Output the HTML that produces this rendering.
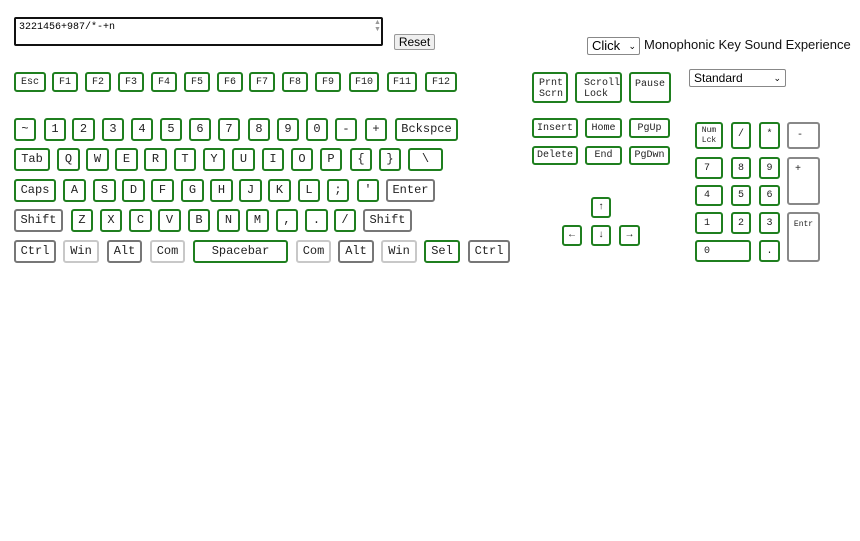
<!DOCTYPE html>
<html><head><meta charset="utf-8"><style>
body{margin:0;width:860px;height:541px;background:#fff;position:relative;overflow:hidden;font-family:"Liberation Mono","DejaVu Sans Mono",monospace;}
.k{position:absolute;box-sizing:border-box;border:2px solid #1f7f1f;border-radius:3px;background:#fff;font-size:12px;color:#222;display:flex;align-items:center;justify-content:center;line-height:13px;}
.g{border-color:#777;}
.l{border-color:#c8c8c8;}
.s{font-size:10px;}
.tl{align-items:flex-start;justify-content:flex-start;padding:4px 0 0 5px;}
.ln{justify-content:flex-start;padding-left:7px;}
.sf{font-family:"Liberation Sans",Arial,sans-serif;}
</style></head><body>
<div style="position:absolute;left:14px;top:17px;width:369px;height:29px;box-sizing:border-box;border:2px solid #111;border-radius:2px;font-size:10px;padding:3px 3px;">3221456+987/*-+n</div>
<div class="sf" style="position:absolute;left:374px;top:19px;width:8px;height:24px;font-size:7px;color:#999;line-height:7px">▲<br>▼</div>
<div class="sf" style="position:absolute;left:394px;top:34px;width:41px;height:16px;box-sizing:border-box;border:1px solid #999;border-radius:2px;background:#efefef;font-size:12px;text-align:center;line-height:14px;">Reset</div>
<div class="sf" style="position:absolute;left:587px;top:37px;width:53px;height:18px;box-sizing:border-box;border:1px solid #888;border-radius:2px;font-size:13px;line-height:16px;padding-left:4px;">Click <span style="position:absolute;right:3px;font-size:9px">⌄</span></div>
<div class="sf" style="position:absolute;left:644px;top:37px;font-size:13px;color:#111;white-space:nowrap;">Monophonic Key Sound Experience</div>
<div class="sf" style="position:absolute;left:689px;top:69px;width:97px;height:18px;box-sizing:border-box;border:1px solid #888;border-radius:2px;font-size:12px;line-height:16px;padding-left:4px;">Standard<span style="position:absolute;right:4px;font-size:9px">⌄</span></div>

<div class="k s" style="left:14px;top:72px;width:32px;height:20px">Esc</div>
<div class="k s" style="left:52px;top:72px;width:26px;height:20px">F1</div>
<div class="k s" style="left:85px;top:72px;width:26px;height:20px">F2</div>
<div class="k s" style="left:118px;top:72px;width:26px;height:20px">F3</div>
<div class="k s" style="left:151px;top:72px;width:26px;height:20px">F4</div>
<div class="k s" style="left:184px;top:72px;width:26px;height:20px">F5</div>
<div class="k s" style="left:217px;top:72px;width:26px;height:20px">F6</div>
<div class="k s" style="left:249px;top:72px;width:26px;height:20px">F7</div>
<div class="k s" style="left:282px;top:72px;width:26px;height:20px">F8</div>
<div class="k s" style="left:315px;top:72px;width:26px;height:20px">F9</div>
<div class="k s" style="left:349px;top:72px;width:30px;height:20px">F10</div>
<div class="k s" style="left:387px;top:72px;width:30px;height:20px">F11</div>
<div class="k s" style="left:425px;top:72px;width:32px;height:20px">F12</div>

<div class="k" style="left:14px;top:118px;width:22px;height:23px">~</div>
<div class="k" style="left:44px;top:118px;width:22px;height:23px">1</div>
<div class="k" style="left:72px;top:118px;width:23px;height:23px">2</div>
<div class="k" style="left:102px;top:118px;width:22px;height:23px">3</div>
<div class="k" style="left:131px;top:118px;width:22px;height:23px">4</div>
<div class="k" style="left:160px;top:118px;width:22px;height:23px">5</div>
<div class="k" style="left:189px;top:118px;width:22px;height:23px">6</div>
<div class="k" style="left:218px;top:118px;width:22px;height:23px">7</div>
<div class="k" style="left:248px;top:118px;width:22px;height:23px">8</div>
<div class="k" style="left:277px;top:118px;width:22px;height:23px">9</div>
<div class="k" style="left:306px;top:118px;width:22px;height:23px">0</div>
<div class="k" style="left:335px;top:118px;width:22px;height:23px">-</div>
<div class="k" style="left:365px;top:118px;width:22px;height:23px">+</div>
<div class="k" style="left:395px;top:118px;width:63px;height:23px">Bckspce</div>

<div class="k" style="left:14px;top:148px;width:36px;height:23px">Tab</div>
<div class="k" style="left:57px;top:148px;width:23px;height:23px">Q</div>
<div class="k" style="left:86px;top:148px;width:23px;height:23px">W</div>
<div class="k" style="left:115px;top:148px;width:23px;height:23px">E</div>
<div class="k" style="left:144px;top:148px;width:23px;height:23px">R</div>
<div class="k" style="left:174px;top:148px;width:22px;height:23px">T</div>
<div class="k" style="left:203px;top:148px;width:22px;height:23px">Y</div>
<div class="k" style="left:232px;top:148px;width:23px;height:23px">U</div>
<div class="k" style="left:262px;top:148px;width:22px;height:23px">I</div>
<div class="k" style="left:291px;top:148px;width:22px;height:23px">O</div>
<div class="k" style="left:320px;top:148px;width:22px;height:23px">P</div>
<div class="k" style="left:350px;top:148px;width:22px;height:23px">{</div>
<div class="k" style="left:379px;top:148px;width:22px;height:23px">}</div>
<div class="k" style="left:408px;top:148px;width:35px;height:23px">\</div>

<div class="k" style="left:14px;top:179px;width:42px;height:23px">Caps</div>
<div class="k" style="left:63px;top:179px;width:23px;height:23px">A</div>
<div class="k" style="left:93px;top:179px;width:23px;height:23px">S</div>
<div class="k" style="left:122px;top:179px;width:23px;height:23px">D</div>
<div class="k" style="left:151px;top:179px;width:23px;height:23px">F</div>
<div class="k" style="left:181px;top:179px;width:23px;height:23px">G</div>
<div class="k" style="left:210px;top:179px;width:23px;height:23px">H</div>
<div class="k" style="left:239px;top:179px;width:23px;height:23px">J</div>
<div class="k" style="left:268px;top:179px;width:23px;height:23px">K</div>
<div class="k" style="left:298px;top:179px;width:22px;height:23px">L</div>
<div class="k" style="left:327px;top:179px;width:22px;height:23px">;</div>
<div class="k" style="left:357px;top:179px;width:22px;height:23px">'</div>
<div class="k g" style="left:386px;top:179px;width:49px;height:23px">Enter</div>

<div class="k g" style="left:14px;top:209px;width:49px;height:23px">Shift</div>
<div class="k" style="left:71px;top:209px;width:22px;height:23px">Z</div>
<div class="k" style="left:100px;top:209px;width:22px;height:23px">X</div>
<div class="k" style="left:129px;top:209px;width:23px;height:23px">C</div>
<div class="k" style="left:158px;top:209px;width:23px;height:23px">V</div>
<div class="k" style="left:188px;top:209px;width:22px;height:23px">B</div>
<div class="k" style="left:217px;top:209px;width:23px;height:23px">N</div>
<div class="k" style="left:246px;top:209px;width:23px;height:23px">M</div>
<div class="k" style="left:276px;top:209px;width:22px;height:23px">,</div>
<div class="k" style="left:305px;top:209px;width:23px;height:23px">.</div>
<div class="k" style="left:334px;top:209px;width:22px;height:23px">/</div>
<div class="k g" style="left:363px;top:209px;width:49px;height:23px">Shift</div>

<div class="k g" style="left:14px;top:240px;width:42px;height:23px">Ctrl</div>
<div class="k l" style="left:63px;top:240px;width:36px;height:23px">Win</div>
<div class="k g" style="left:107px;top:240px;width:35px;height:23px">Alt</div>
<div class="k l" style="left:150px;top:240px;width:35px;height:23px">Com</div>
<div class="k" style="left:193px;top:240px;width:95px;height:23px">Spacebar</div>
<div class="k l" style="left:296px;top:240px;width:35px;height:23px">Com</div>
<div class="k g" style="left:338px;top:240px;width:36px;height:23px">Alt</div>
<div class="k l" style="left:381px;top:240px;width:36px;height:23px">Win</div>
<div class="k" style="left:424px;top:240px;width:36px;height:23px">Sel</div>
<div class="k g" style="left:468px;top:240px;width:42px;height:23px">Ctrl</div>

<div class="k s tl" style="left:532px;top:72px;width:36px;height:31px;line-height:11px">Prnt<br>Scrn</div>
<div class="k s tl" style="left:575px;top:72px;width:47px;height:31px;line-height:11px;padding-left:7px">Scroll<br>Lock</div>
<div class="k s" style="left:629px;top:72px;width:42px;height:31px;align-items:flex-start;padding-top:4px">Pause</div>
<div class="k s" style="left:532px;top:118px;width:46px;height:20px">Insert</div>
<div class="k s" style="left:585px;top:118px;width:37px;height:20px">Home</div>
<div class="k s" style="left:629px;top:118px;width:41px;height:20px">PgUp</div>
<div class="k s" style="left:532px;top:146px;width:46px;height:19px">Delete</div>
<div class="k s" style="left:585px;top:146px;width:37px;height:19px">End</div>
<div class="k s" style="left:629px;top:146px;width:41px;height:19px">PgDwn</div>
<div class="k s" style="left:591px;top:197px;width:20px;height:21px">↑</div>
<div class="k s" style="left:562px;top:225px;width:20px;height:21px">←</div>
<div class="k s" style="left:591px;top:225px;width:20px;height:21px">↓</div>
<div class="k s" style="left:619px;top:225px;width:21px;height:21px">→</div>

<div class="k" style="left:695px;top:122px;width:28px;height:27px;font-size:8px;line-height:10px;text-align:center">Num<br>Lck</div>
<div class="k s" style="left:731px;top:122px;width:20px;height:27px;align-items:flex-start;padding-top:4px">/</div>
<div class="k s" style="left:759px;top:122px;width:21px;height:27px;align-items:flex-start;padding-top:4px">*</div>
<div class="k g s" style="left:787px;top:122px;width:33px;height:27px;border-color:#888;align-items:flex-start;padding-top:5px;justify-content:flex-start;padding-left:8px">-</div>
<div class="k s ln" style="left:695px;top:157px;width:28px;height:22px">7</div>
<div class="k s" style="left:731px;top:157px;width:20px;height:22px">8</div>
<div class="k s" style="left:759px;top:157px;width:21px;height:22px">9</div>
<div class="k g s tl" style="left:787px;top:157px;width:33px;height:48px;border-color:#888;padding-left:6px">+</div>
<div class="k s ln" style="left:695px;top:185px;width:28px;height:21px">4</div>
<div class="k s" style="left:731px;top:185px;width:20px;height:21px">5</div>
<div class="k s" style="left:759px;top:185px;width:21px;height:21px">6</div>
<div class="k s ln" style="left:695px;top:212px;width:28px;height:22px">1</div>
<div class="k s" style="left:731px;top:212px;width:20px;height:22px">2</div>
<div class="k s" style="left:759px;top:212px;width:21px;height:22px">3</div>
<div class="k g" style="left:787px;top:212px;width:33px;height:50px;border-color:#888;font-size:8px;align-items:flex-start;padding-top:4px">Entr</div>
<div class="k s ln" style="left:695px;top:240px;width:56px;height:22px">0</div>
<div class="k s" style="left:759px;top:240px;width:21px;height:22px">.</div>
</body></html>
